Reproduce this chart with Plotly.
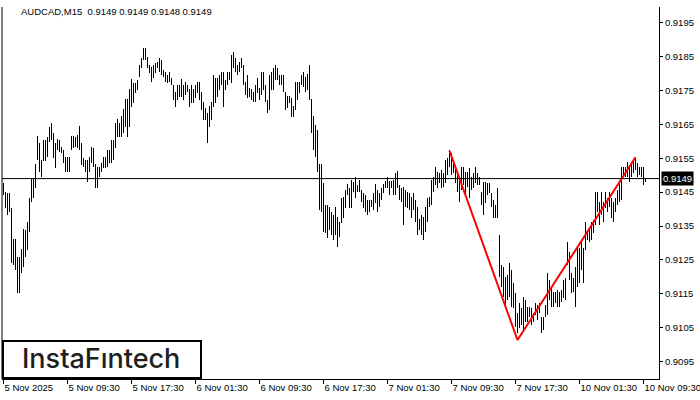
import plotly.graph_objects as go

symbol_title = "AUDCAD,M15\u00a0\u00a00.9149 0.9149 0.9148 0.9149"
last_price = 0.9149

highs = [
    0.91477, 0.91451, 0.91448, 0.91448, 0.91403, 0.91312, 0.91312, 0.91259, 0.91259, 0.91282,
    0.91341, 0.91339, 0.91362, 0.91433, 0.91492, 0.91492, 0.91533, 0.91616, 0.91595, 0.91545,
    0.91604, 0.91604, 0.91613, 0.91642, 0.91654, 0.91625, 0.91595, 0.91607, 0.91604, 0.91583,
    0.91575, 0.91554, 0.91554, 0.91554, 0.91616, 0.91616, 0.91613, 0.91619, 0.91645, 0.91595,
    0.91551, 0.91545, 0.91545, 0.91554, 0.91583, 0.91580, 0.91533, 0.91524, 0.91524, 0.91536,
    0.91554, 0.91554, 0.91575, 0.91575, 0.91604, 0.91604, 0.91654, 0.91666, 0.91654, 0.91675,
    0.91695, 0.91725, 0.91725, 0.91754, 0.91784, 0.91772, 0.91772, 0.91781, 0.91825, 0.91846,
    0.91875, 0.91875, 0.91849, 0.91825, 0.91819, 0.91825, 0.91831, 0.91834, 0.91846, 0.91840,
    0.91811, 0.91805, 0.91796, 0.91805, 0.91787, 0.91766, 0.91746, 0.91766, 0.91766, 0.91784,
    0.91766, 0.91775, 0.91766, 0.91754, 0.91766, 0.91754, 0.91766, 0.91775, 0.91775, 0.91746,
    0.91716, 0.91698, 0.91684, 0.91704, 0.91716, 0.91796, 0.91787, 0.91787, 0.91796, 0.91805,
    0.91805, 0.91781, 0.91805, 0.91805, 0.91855, 0.91864, 0.91846, 0.91825, 0.91834, 0.91846,
    0.91825, 0.91775, 0.91796, 0.91757, 0.91754, 0.91746, 0.91766, 0.91787, 0.91757, 0.91805,
    0.91805, 0.91766, 0.91722, 0.91796, 0.91805, 0.91816, 0.91825, 0.91816, 0.91796, 0.91796,
    0.91796, 0.91746, 0.91734, 0.91734, 0.91728, 0.91704, 0.91775, 0.91775, 0.91775, 0.91796,
    0.91805, 0.91790, 0.91799, 0.91825, 0.91725, 0.91675, 0.91648, 0.91634, 0.91533, 0.91533,
    0.91477, 0.91412, 0.91412, 0.91406, 0.91392, 0.91383, 0.91406, 0.91377, 0.91362, 0.91433,
    0.91436, 0.91457, 0.91474, 0.91462, 0.91486, 0.91480, 0.91495, 0.91471, 0.91486, 0.91457,
    0.91448, 0.91442, 0.91427, 0.91427, 0.91427, 0.91448, 0.91474, 0.91457, 0.91448, 0.91462,
    0.91474, 0.91483, 0.91495, 0.91483, 0.91483, 0.91486, 0.91507, 0.91513, 0.91471, 0.91462,
    0.91465, 0.91457, 0.91451, 0.91448, 0.91436, 0.91448, 0.91427, 0.91406, 0.91371, 0.91383,
    0.91377, 0.91406, 0.91433, 0.91436, 0.91486, 0.91495, 0.91524, 0.91510, 0.91507, 0.91516,
    0.91507, 0.91545, 0.91551, 0.91575, 0.91566, 0.91545, 0.91524, 0.91510, 0.91495, 0.91524,
    0.91524, 0.91510, 0.91510, 0.91521, 0.91495, 0.91507, 0.91524, 0.91507, 0.91495, 0.91451,
    0.91480, 0.91480, 0.91477, 0.91477, 0.91448, 0.91427, 0.91412, 0.91462, 0.91324, 0.91235,
    0.91229, 0.91200, 0.91206, 0.91241, 0.91221, 0.91182, 0.91153, 0.91094, 0.91123, 0.91108,
    0.91141, 0.91132, 0.91111, 0.91111, 0.91108, 0.91094, 0.91123, 0.91117, 0.91123, 0.91082,
    0.91082, 0.91117, 0.91212, 0.91191, 0.91170, 0.91156, 0.91156, 0.91162, 0.91156, 0.91162,
    0.91191, 0.91197, 0.91303, 0.91274, 0.91212, 0.91197, 0.91229, 0.91285, 0.91285, 0.91303,
    0.91285, 0.91362, 0.91339, 0.91344, 0.91362, 0.91368, 0.91451, 0.91451, 0.91421, 0.91451,
    0.91421, 0.91451, 0.91433, 0.91451, 0.91433, 0.91421, 0.91433, 0.91457, 0.91480, 0.91524,
    0.91524, 0.91524, 0.91539, 0.91524, 0.91539, 0.91545, 0.91551, 0.91536, 0.91524, 0.91524,
    0.91524, 0.91490,
]

lows = [
    0.91442, 0.91403, 0.91383, 0.91392, 0.91241, 0.91235, 0.91221, 0.91153, 0.91153, 0.91212,
    0.91229, 0.91259, 0.91280, 0.91333, 0.91421, 0.91433, 0.91462, 0.91545, 0.91510, 0.91495,
    0.91542, 0.91542, 0.91554, 0.91598, 0.91604, 0.91551, 0.91521, 0.91575, 0.91569, 0.91566,
    0.91536, 0.91510, 0.91510, 0.91510, 0.91575, 0.91580, 0.91583, 0.91580, 0.91575, 0.91530,
    0.91524, 0.91510, 0.91480, 0.91510, 0.91536, 0.91524, 0.91462, 0.91462, 0.91495, 0.91510,
    0.91521, 0.91521, 0.91524, 0.91536, 0.91536, 0.91545, 0.91580, 0.91613, 0.91613, 0.91613,
    0.91625, 0.91642, 0.91613, 0.91642, 0.91701, 0.91713, 0.91743, 0.91752, 0.91790, 0.91816,
    0.91840, 0.91840, 0.91816, 0.91802, 0.91775, 0.91787, 0.91802, 0.91816, 0.91805, 0.91796,
    0.91790, 0.91775, 0.91772, 0.91775, 0.91766, 0.91722, 0.91701, 0.91722, 0.91731, 0.91731,
    0.91722, 0.91737, 0.91746, 0.91701, 0.91713, 0.91713, 0.91728, 0.91743, 0.91722, 0.91693,
    0.91663, 0.91663, 0.91595, 0.91642, 0.91663, 0.91701, 0.91713, 0.91731, 0.91752, 0.91766,
    0.91701, 0.91752, 0.91766, 0.91781, 0.91772, 0.91816, 0.91805, 0.91796, 0.91805, 0.91816,
    0.91766, 0.91737, 0.91728, 0.91731, 0.91722, 0.91716, 0.91716, 0.91743, 0.91722, 0.91737,
    0.91752, 0.91716, 0.91684, 0.91693, 0.91752, 0.91752, 0.91781, 0.91781, 0.91766, 0.91766,
    0.91746, 0.91693, 0.91698, 0.91713, 0.91672, 0.91672, 0.91693, 0.91722, 0.91743, 0.91766,
    0.91760, 0.91746, 0.91752, 0.91722, 0.91625, 0.91575, 0.91554, 0.91510, 0.91398, 0.91392,
    0.91333, 0.91330, 0.91315, 0.91339, 0.91324, 0.91309, 0.91324, 0.91288, 0.91318, 0.91359,
    0.91374, 0.91403, 0.91442, 0.91403, 0.91403, 0.91451, 0.91433, 0.91451, 0.91451, 0.91421,
    0.91403, 0.91392, 0.91383, 0.91392, 0.91406, 0.91398, 0.91418, 0.91392, 0.91406, 0.91427,
    0.91448, 0.91462, 0.91462, 0.91442, 0.91462, 0.91442, 0.91442, 0.91462, 0.91427, 0.91421,
    0.91353, 0.91406, 0.91403, 0.91398, 0.91374, 0.91398, 0.91362, 0.91324, 0.91339, 0.91324,
    0.91309, 0.91333, 0.91362, 0.91406, 0.91412, 0.91451, 0.91471, 0.91462, 0.91477, 0.91462,
    0.91465, 0.91477, 0.91501, 0.91524, 0.91501, 0.91507, 0.91477, 0.91451, 0.91421, 0.91457,
    0.91471, 0.91442, 0.91465, 0.91433, 0.91457, 0.91462, 0.91477, 0.91471, 0.91471, 0.91412,
    0.91383, 0.91418, 0.91442, 0.91448, 0.91406, 0.91374, 0.91374, 0.91374, 0.91200, 0.91170,
    0.91141, 0.91111, 0.91132, 0.91141, 0.91111, 0.91108, 0.91052, 0.91035, 0.91049, 0.91058,
    0.91044, 0.91067, 0.91067, 0.91082, 0.91058, 0.91067, 0.91088, 0.91073, 0.91094, 0.91035,
    0.91044, 0.91082, 0.91088, 0.91132, 0.91111, 0.91111, 0.91123, 0.91111, 0.91111, 0.91126,
    0.91138, 0.91132, 0.91235, 0.91191, 0.91153, 0.91156, 0.91111, 0.91170, 0.91182, 0.91221,
    0.91182, 0.91280, 0.91309, 0.91303, 0.91309, 0.91330, 0.91353, 0.91392, 0.91353, 0.91383,
    0.91362, 0.91403, 0.91392, 0.91406, 0.91374, 0.91362, 0.91392, 0.91412, 0.91421, 0.91427,
    0.91495, 0.91495, 0.91495, 0.91480, 0.91495, 0.91507, 0.91516, 0.91495, 0.91501, 0.91495,
    0.91471, 0.91480,
]

time_labels = [
    "5 Nov 2025", "5 Nov 09:30", "5 Nov 17:30", "6 Nov 01:30", "6 Nov 09:30",
    "6 Nov 17:30", "7 Nov 01:30", "7 Nov 09:30", "7 Nov 17:30", "10 Nov 01:30",
    "10 Nov 09:30",
]
bars_per_label = 32

price_ticks = [0.9095, 0.9105, 0.9115, 0.9125, 0.9135, 0.9145,
               0.9155, 0.9165, 0.9175, 0.9185, 0.9195]

pattern_bar = [223, 257, 316]
pattern_price = [0.91572, 0.91014, 0.91553]

logo_text = "InstaF\u0131ntech"

idx = list(range(len(highs)))
FONT = "Liberation Sans, Arial, sans-serif"

fig = go.Figure()
fig.add_trace(go.Bar(
    x=idx,
    base=lows,
    y=[h - l for h, l in zip(highs, lows)],
    width=0.5,
    marker=dict(color="black", line=dict(width=0)),
    hoverinfo="skip",
    showlegend=False,
))
fig.add_trace(go.Scatter(
    x=pattern_bar, y=pattern_price, mode="lines",
    line=dict(color="#ff0000", width=2),
    hoverinfo="skip", showlegend=False,
))

fig.update_layout(
    width=700, height=400,
    margin=dict(l=2, r=41, t=7, b=21, pad=0, autoexpand=False),
    paper_bgcolor="white", plot_bgcolor="white",
    font=dict(family=FONT, size=9.5, color="black"),
    showlegend=False,
    bargap=0,
    hovermode=False,
)
fig.update_xaxes(
    range=[-0.75, 327.75],
    tickvals=[i * bars_per_label for i in range(len(time_labels))],
    ticktext=time_labels,
    tickangle=0,
    ticks="outside", ticklen=4, tickcolor="black", tickwidth=1,
    ticklabelposition="outside right",
    ticklabeloverflow="allow",
    tickfont=dict(family=FONT, size=9.5, color="black"),
    showline=True, linecolor="black", linewidth=1,
    showgrid=False, zeroline=False, fixedrange=True, automargin=False,
)
fig.update_yaxes(
    side="right",
    range=[0.90899, 0.91996],
    tickvals=price_ticks,
    ticktext=[f"{v:.4f}" for v in price_ticks],
    ticks="outside", ticklen=3, tickcolor="black", tickwidth=1,
    tickfont=dict(family=FONT, size=9.5, color="black"),
    showline=True, linecolor="black", linewidth=1,
    showgrid=False, zeroline=False, fixedrange=True, automargin=False,
)

# left frame line
fig.add_shape(type="line", xref="paper", yref="paper", x0=0, x1=0, y0=0, y1=1,
              line=dict(color="black", width=1))
# current price line
fig.add_shape(type="line", xref="paper", yref="y", x0=0, x1=1,
              y0=last_price, y1=last_price, line=dict(color="black", width=1))
# logo box
fig.add_shape(type="rect", xref="paper", yref="paper",
              x0=0.0015, x1=0.3029, y0=0.0027, y1=0.1022,
              line=dict(color="black", width=2), fillcolor="white", layer="above")

fig.add_annotation(xref="paper", yref="paper", x=0.1514, y=0.0551,
                   text=logo_text, showarrow=False, xanchor="center", yanchor="middle",
                   font=dict(family="Inter, sans-serif", size=27, color="#1e1e1e", weight=500))
fig.add_annotation(xref="paper", yref="paper", x=0.0259, y=0.9892,
                   text=symbol_title, showarrow=False, xanchor="left", yanchor="middle",
                   font=dict(family=FONT, size=9.5, color="black"))
fig.add_annotation(xref="paper", yref="y", x=1, y=last_price, xshift=2,
                   text=f"{last_price:.4f}", showarrow=False, xanchor="left", yanchor="middle",
                   bgcolor="black", borderpad=1,
                   font=dict(family=FONT, size=9.5, color="white"))

fig.write_html("out.html", config={"displayModeBar": False},
               post_script="document.body.style.margin='0px';")
